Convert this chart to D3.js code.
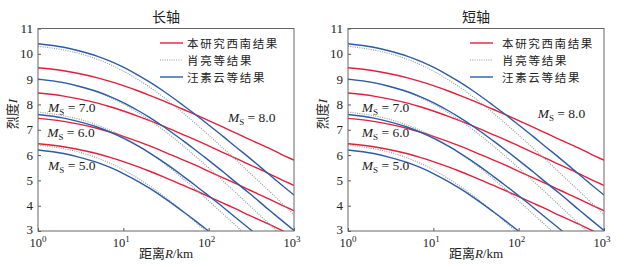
<!DOCTYPE html>
<html><head><meta charset="utf-8">
<script src="https://cdn.jsdelivr.net/npm/d3@7"></script>
<style>body{margin:0;background:#fff}svg text{font-family:"Liberation Serif","Noto Sans CJK SC",serif;fill:#222}</style>
</head><body><svg id="c" width="624" height="267"></svg>
<script>
// distances R (km)
const distances=[1,2,3,5,7,10,15,20,30,50,70,100,150,200,300,500,700,1000];
// 本研究西南结果 (red)
const redM8=[9.45,9.33,9.22,9.05,8.91,8.74,8.53,8.37,8.13,7.81,7.60,7.36,7.09,6.90,6.62,6.28,6.04,5.80];
const redM7=[8.45,8.33,8.22,8.05,7.91,7.74,7.53,7.37,7.13,6.81,6.60,6.36,6.09,5.90,5.62,5.28,5.04,4.80];
const redM6=[7.45,7.33,7.22,7.05,6.91,6.74,6.53,6.37,6.13,5.81,5.60,5.36,5.09,4.90,4.62,4.28,4.04,3.80];
const redM5=[6.45,6.33,6.22,6.05,5.91,5.74,5.53,5.37,5.13,4.81,4.60,4.36,4.09,3.90,3.62,3.28,3.04,2.80];
// 肖亮等结果 (dotted)
const dotM8=[10.30,10.15,10.02,9.78,9.58,9.32,8.97,8.70,8.27,7.67,7.25,6.79,6.25,5.87,5.31,4.61,4.14,3.64];
const dotM7=[9.00,8.85,8.72,8.48,8.28,8.02,7.67,7.40,6.97,6.37,5.95,5.49,4.95,4.57,4.01,3.31,2.84,2.34];
const dotM6=[7.70,7.55,7.42,7.18,6.98,6.72,6.37,6.10,5.67,5.07,4.65,4.19,3.65,3.27,2.71,2.01,1.54,1.04];
const dotM5=[6.40,6.25,6.12,5.88,5.68,5.42,5.07,4.80,4.37,3.77,3.35,2.89,2.35,1.97,1.41,0.71,0.24,-0.26];
// 汪素云等结果 (blue)
const bluM8=[10.40,10.26,10.12,9.90,9.71,9.47,9.15,8.90,8.51,7.97,7.60,7.19,6.72,6.37,5.89,5.26,4.85,4.42];
const bluM7=[9.00,8.86,8.72,8.50,8.31,8.07,7.75,7.50,7.11,6.57,6.20,5.79,5.32,4.97,4.49,3.86,3.45,3.02];
const bluM6=[7.60,7.46,7.32,7.10,6.91,6.67,6.35,6.10,5.71,5.17,4.80,4.39,3.92,3.57,3.09,2.46,2.05,1.62];
const bluM5=[6.20,6.06,5.92,5.70,5.51,5.27,4.95,4.70,4.31,3.77,3.40,2.99,2.52,2.17,1.69,1.06,0.65,0.22];

const magLabels=["7.0","6.0","5.0","8.0"];
const yTicks=[3,4,5,6,7,8,9,10,11];
const xTicks=[1,10,100,1000];
const xExp=["0","1","2","3"];
const legendNames=["本研究西南结果","肖亮等结果","汪素云等结果"];
const titles=["长轴","短轴"];

const RED="#e2203d", BLUE="#2d5ca6", GRAY="#8f969c";
const series=[
  {v:redM8,c:RED},{v:redM7,c:RED},{v:redM6,c:RED},{v:redM5,c:RED},
  {v:dotM8,c:GRAY,dot:true},{v:dotM7,c:GRAY,dot:true},{v:dotM6,c:GRAY,dot:true},{v:dotM5,c:GRAY,dot:true},
  {v:bluM8,c:BLUE},{v:bluM7,c:BLUE},{v:bluM6,c:BLUE},{v:bluM5,c:BLUE}
];

const svg=d3.select("#c");
const panels=[
  {x0:38,x1:294,legLine:160,legText:187,ylab:13,
   labs:[[1.31,7.70],[1.28,6.71],[1.31,5.41],[168,7.31]]},
  {x0:348,x1:604,legLine:470,legText:502,ylab:323,
   labs:[[1.45,7.70],[1.45,6.71],[1.45,5.41],[167,7.46]]}
];
const Y0=231, Y1=28.5;

panels.forEach((p,pi)=>{
  const x=d3.scaleLog().domain([1,1000]).range([p.x0,p.x1]);
  const y=d3.scaleLinear().domain([3,11]).range([Y0,Y1]);
  const g=svg.append("g");
  const cid="clip"+pi;
  svg.append("defs").append("clipPath").attr("id",cid).append("rect")
    .attr("x",p.x0).attr("y",Y1).attr("width",p.x1-p.x0).attr("height",Y0-Y1);

  // axes
  const ya=g.append("g").attr("transform",`translate(${p.x0},0)`)
    .call(d3.axisLeft(y).tickValues(yTicks).tickSize(-3).tickPadding(5).tickFormat(d3.format("d")));
  ya.select(".domain").remove();
  ya.selectAll("line").attr("stroke","#555");
  ya.selectAll("text").attr("font-size",13).attr("fill","#222").style("font-family","Liberation Serif");
  ya.selectAll(".tick").filter(d=>d===3).select("text").attr("dy","0.22em");
  const xa=g.append("g").attr("transform",`translate(0,${Y0})`)
    .call(d3.axisBottom(x).tickValues(xTicks).tickSize(-3).tickFormat(""));
  xa.select(".domain").remove();
  xa.selectAll("line").attr("stroke","#555");
  xTicks.forEach((t,i)=>{
    const tx=g.append("text").attr("x",x(t)+(i===0?0:-2)).attr("y",247).attr("text-anchor","middle")
      .attr("font-size",12.5);
    tx.append("tspan").text("10");
    tx.append("tspan").attr("font-size",9).attr("dy",-5.5).text(xExp[i]);
  });

  // curves
  const line=d3.line().x(d=>x(d[0])).y(d=>y(d[1])).curve(d3.curveMonotoneX);
  const cg=g.append("g").attr("clip-path",`url(#${cid})`);
  series.forEach(s=>{
    cg.append("path").datum(distances.map((r,i)=>[r,s.v[i]]))
      .attr("d",line).attr("fill","none").attr("stroke",s.c)
      .attr("stroke-width",s.dot?1.1:1.4)
      .attr("stroke-dasharray",s.dot?"1,1.3":null);
  });

  // frame
  g.append("rect").attr("x",p.x0).attr("y",Y1).attr("width",p.x1-p.x0).attr("height",Y0-Y1)
    .attr("fill","none").attr("stroke","#666").attr("stroke-width",1);

  // title
  g.append("text").attr("x",(p.x0+p.x1)/2).attr("y",22).attr("text-anchor","middle")
    .attr("font-size",14).style("font-family","Noto Sans CJK SC").text(titles[pi]);
  // x label
  const xl=g.append("text").attr("x",(p.x0+p.x1)/2).attr("y",258).attr("text-anchor","middle").attr("font-size",13);
  xl.append("tspan").style("font-family","Noto Sans CJK SC").text("距离");
  xl.append("tspan").attr("font-style","italic").text("R");
  xl.append("tspan").text("/km");
  // y label
  const yl=g.append("text").attr("transform",`translate(${p.ylab+4},114) rotate(-90)`).attr("text-anchor","middle").attr("font-size",13);
  yl.append("tspan").style("font-family","Noto Sans CJK SC").text("烈度");
  yl.append("tspan").attr("font-style","italic").text("I");

  // legend
  const styles=[{c:RED},{c:GRAY,dot:true},{c:BLUE}];
  const ly=[43,60,77];
  legendNames.forEach((n,i)=>{
    g.append("line").attr("x1",p.legLine).attr("x2",p.legLine+23).attr("y1",ly[i]).attr("y2",ly[i])
      .attr("stroke",styles[i].c).attr("stroke-width",styles[i].dot?1.1:1.4)
      .attr("stroke-dasharray",styles[i].dot?"1,1.3":null);
    g.append("text").attr("x",p.legText).attr("y",ly[i]+4.5).attr("font-size",11.5)
      .attr("textLength",88).attr("lengthAdjust","spacing")
      .attr("textLength",n.length*12.9)
      .style("font-family","Noto Sans CJK SC").text(n);
  });

  // magnitude labels
  p.labs.forEach((l,i)=>{
    const t=g.append("text").attr("x",x(l[0])).attr("y",y(l[1])).attr("font-size",13.5);
    t.append("tspan").attr("font-style","italic").text("M");
    t.append("tspan").attr("font-size",9).attr("dy",3).text("S");
    t.append("tspan").attr("dy",-3).text(" = "+magLabels[i]);
  });
});
</script></body></html>
